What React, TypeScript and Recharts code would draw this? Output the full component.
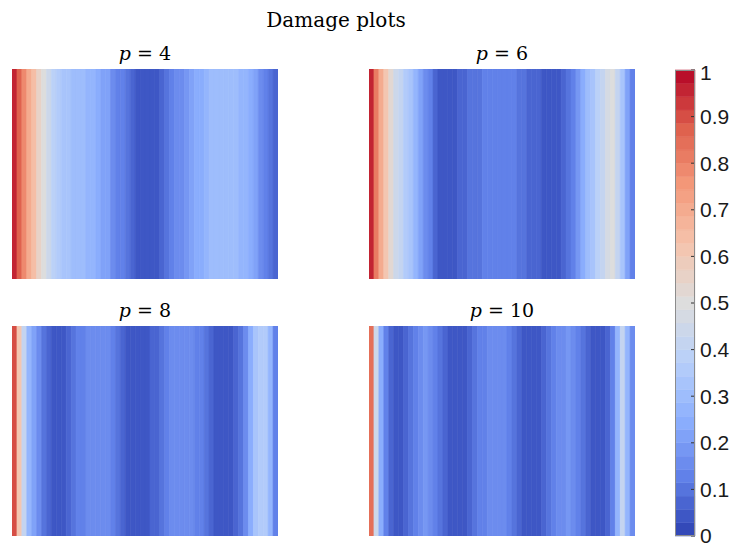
import { BarChart, Bar, Cell, XAxis, YAxis } from 'recharts'

// damage profiles, left to right, 54 columns each
const damageP4 = [
  0.97, 0.88, 0.78, 0.7, 0.63, 0.57, 0.51, 0.45, 0.39, 0.36, 0.34, 0.32, 0.31, 0.3,
  0.29, 0.28, 0.26, 0.24, 0.22, 0.2, 0.17, 0.14, 0.12, 0.09, 0.07, 0.05, 0.04, 0.03,
  0.04, 0.05, 0.08, 0.1, 0.13, 0.15, 0.17, 0.19, 0.21, 0.23, 0.25, 0.27, 0.29, 0.3,
  0.31, 0.31, 0.31, 0.3, 0.28, 0.26, 0.23, 0.2, 0.17, 0.13, 0.1, 0.07,
]
const damageP6 = [
  0.96, 0.82, 0.7, 0.6, 0.52, 0.45, 0.4, 0.36, 0.32, 0.27, 0.22, 0.17, 0.12, 0.08,
  0.05, 0.04, 0.04, 0.05, 0.07, 0.08, 0.09, 0.1, 0.11, 0.12, 0.13, 0.14, 0.14, 0.14,
  0.13, 0.12, 0.11, 0.1, 0.08, 0.07, 0.06, 0.05, 0.04, 0.04, 0.04, 0.06, 0.1, 0.14,
  0.19, 0.24, 0.29, 0.34, 0.38, 0.42, 0.47, 0.49, 0.42, 0.32, 0.22, 0.13,
]
const damageP8 = [
  0.9, 0.62, 0.4, 0.28, 0.21, 0.15, 0.1, 0.07, 0.05, 0.04, 0.05, 0.07, 0.1, 0.12,
  0.14, 0.16, 0.17, 0.17, 0.17, 0.15, 0.13, 0.1, 0.08, 0.05, 0.04, 0.03, 0.04, 0.05,
  0.06, 0.08, 0.11, 0.13, 0.15, 0.17, 0.17, 0.17, 0.16, 0.14, 0.12, 0.1, 0.07, 0.05,
  0.04, 0.03, 0.04, 0.06, 0.1, 0.17, 0.25, 0.32, 0.37, 0.37, 0.27, 0.14,
]
const damageP10 = [
  0.85, 0.45, 0.24, 0.13, 0.07, 0.04, 0.05, 0.07, 0.1, 0.13, 0.16, 0.18, 0.17, 0.14,
  0.11, 0.08, 0.05, 0.04, 0.03, 0.04, 0.06, 0.09, 0.12, 0.14, 0.16, 0.17, 0.17, 0.16,
  0.13, 0.1, 0.08, 0.05, 0.04, 0.03, 0.04, 0.06, 0.09, 0.12, 0.15, 0.17, 0.18, 0.16,
  0.13, 0.1, 0.07, 0.04, 0.03, 0.04, 0.07, 0.14, 0.27, 0.4, 0.28, 0.15,
]

const pValues = [4, 6, 8, 10]
const profiles = [damageP4, damageP6, damageP8, damageP10]
const colorbarTicks = [0, 0.1, 0.2, 0.3, 0.4, 0.5, 0.6, 0.7, 0.8, 0.9, 1]
const LEVELS = 35

// panel placement (px)
const panelBox = [
  { left: 12, top: 69 },
  { left: 369, top: 69 },
  { left: 12, top: 326 },
  { left: 369, top: 326 },
]
const PANEL_W = 266
const PANEL_H = 210

// coolwarm anchors
const coolwarm: [number, number, number][] = [
  [45, 66, 178], [96, 128, 232], [141, 176, 254], [184, 208, 249], [221, 221, 221],
  [245, 196, 173], [244, 154, 123], [222, 96, 77], [180, 4, 38],
]

function cmap(t: number) {
  const s = Math.min(1, Math.max(0, t)) * (coolwarm.length - 1)
  const i = Math.min(coolwarm.length - 2, Math.floor(s))
  const f = s - i
  const a = coolwarm[i], b = coolwarm[i + 1]
  const c = a.map((v, k) => Math.round(v + (b[k] - v) * f))
  return `rgb(${c[0]},${c[1]},${c[2]})`
}

function levelColor(v: number) {
  const k = Math.min(LEVELS - 1, Math.max(0, Math.floor(v * LEVELS)))
  return cmap((k + 0.5) / LEVELS)
}

const serif = '"DejaVu Serif", "Liberation Serif", serif'

function Panel({ values, p, left, top }: { values: number[]; p: number; left: number; top: number }) {
  const data = values.map((d, i) => ({ col: i, damage: d }))
  return (
    <>
      <div style={{
        position: 'absolute', left, top: top - 27, width: PANEL_W, textAlign: 'center',
        fontFamily: serif, fontSize: 19, color: '#000', lineHeight: '22px',
      }}>
        <i>p</i> = {p}
      </div>
      <div style={{ position: 'absolute', left, top }}>
        <BarChart width={PANEL_W} height={PANEL_H} data={data} margin={{ top: 0, right: 0, bottom: 0, left: 0 }}
          barCategoryGap={0} barGap={0}>
          <XAxis dataKey="col" hide />
          <YAxis hide domain={[0, 1]} />
          <Bar dataKey={() => 1} isAnimationActive={false}>
            {data.map((e, i) => (
              <Cell key={i} fill={levelColor(e.damage)} stroke={levelColor(e.damage)} strokeWidth={0.6} />
            ))}
          </Bar>
        </BarChart>
      </div>
    </>
  )
}

export default function App() {
  const cbRow: Record<string, number | string> = { name: 'cb' }
  for (let k = 0; k < LEVELS; k++) cbRow[`l${k}`] = 1 / LEVELS

  return (
    <div style={{ position: 'fixed', left: 0, top: 0, width: 734, height: 544, background: '#fff', overflow: 'hidden' }}>
      <div style={{
        position: 'absolute', left: 0, top: 8, width: 672, textAlign: 'center',
        fontFamily: serif, fontSize: 20, color: '#000',
      }}>
        Damage plots
      </div>

      {profiles.map((vals, i) => (
        <Panel key={i} values={vals} p={pValues[i]} left={panelBox[i].left} top={panelBox[i].top} />
      ))}

      {/* Colorbar */}
      <div style={{ position: 'absolute', left: 675, top: 60 }}>
        <BarChart width={59} height={490} data={[cbRow]} margin={{ top: 10, right: 0, bottom: 14, left: 0 }}
          barCategoryGap={0} barGap={0}>
          <XAxis dataKey="name" hide />
          <YAxis
            orientation="right"
            domain={[0, 1]}
            ticks={colorbarTicks}
            width={39}
            axisLine={false}
            tickSize={-4}
            tickMargin={9}
            tickLine={{ stroke: '#333' }}
            tick={{ fontSize: 21, fill: '#1a1a1a', fontFamily: '"Liberation Sans", Arial, sans-serif' }}
          />
          {Array.from({ length: LEVELS }, (_, k) => (
            <Bar key={k} dataKey={`l${k}`} stackId="cb" fill={cmap((k + 0.5) / LEVELS)}
              stroke={cmap((k + 0.5) / LEVELS)} strokeWidth={0.5} isAnimationActive={false} />
          ))}
        </BarChart>
      </div>
      <div style={{
        position: 'absolute', left: 675, top: 70, width: 20, height: 466,
        border: '1px solid #8c8c8c', boxSizing: 'border-box', pointerEvents: 'none',
      }} />
    </div>
  )
}
